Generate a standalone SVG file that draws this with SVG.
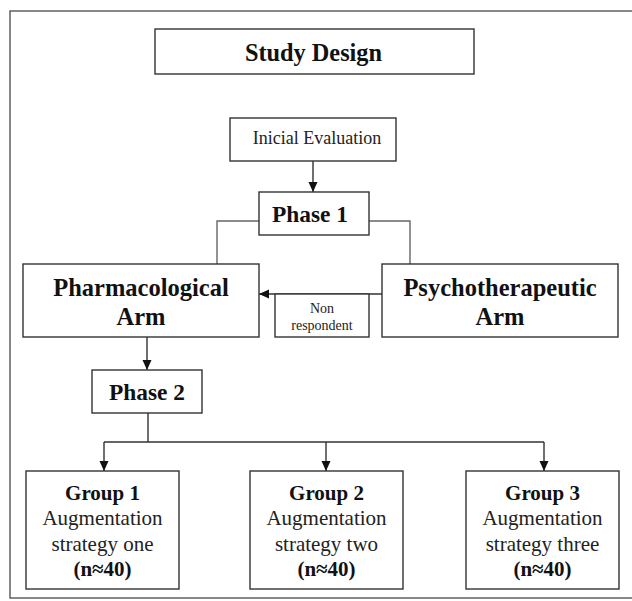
<svg xmlns="http://www.w3.org/2000/svg" width="632" height="601" viewBox="0 0 632 601">
<defs>
<marker id="ah" markerUnits="userSpaceOnUse" markerWidth="10" markerHeight="10" viewBox="0 0 10 10" refX="10" refY="5" orient="auto">
<path d="M0,0.5 L10,5 L0,9.5 Z" fill="#111"/>
</marker>
<style>
.box{fill:#fff;stroke:#333;stroke-width:1.4}
.ln{fill:none;stroke:#333;stroke-width:1.4}
.gl{fill:none;stroke:#666;stroke-width:1.4}
.b{font-family:"Liberation Serif","Times New Roman",serif;font-weight:bold;fill:#111;text-anchor:middle}
.r{font-family:"Liberation Serif","Times New Roman",serif;fill:#222;text-anchor:middle}
</style>
</defs>
<rect x="0" y="0" width="632" height="601" fill="#fff"/>
<rect x="10" y="11" width="640" height="587" fill="none" stroke="#555" stroke-width="1.4"/>
<g id="connectors">
<line class="ln" x1="313" y1="161" x2="313" y2="192" marker-end="url(#ah)"/>
<polyline class="gl" points="259,221 217,221 217,264"/>
<polyline class="gl" points="369,221 410,221 410,264"/>
<line class="ln" x1="382" y1="294" x2="259" y2="294" marker-end="url(#ah)"/>
<line class="ln" x1="147" y1="337" x2="147" y2="370" marker-end="url(#ah)"/>
<line class="ln" x1="148" y1="413" x2="148" y2="442"/>
<line class="ln" x1="104" y1="442" x2="544" y2="442"/>
<line class="ln" x1="104" y1="442" x2="104" y2="471" marker-end="url(#ah)"/>
<line class="ln" x1="326" y1="442" x2="326" y2="471" marker-end="url(#ah)"/>
<line class="ln" x1="544" y1="442" x2="544" y2="471" marker-end="url(#ah)"/>
</g>
<g id="study-design">
<rect class="box" x="155" y="29" width="319" height="45"/>
<text class="b" x="313.5" y="61" font-size="25" textLength="137" lengthAdjust="spacingAndGlyphs">Study Design</text>
</g>
<g id="inicial-evaluation">
<rect class="box" x="230" y="118" width="166" height="43"/>
<text class="r" x="317" y="144" font-size="18">Inicial Evaluation</text>
</g>
<g id="phase1">
<rect class="box" x="259" y="192" width="110" height="43"/>
<text class="b" x="310" y="222" font-size="24" textLength="76" lengthAdjust="spacingAndGlyphs">Phase 1</text>
</g>
<g id="pharmacological-arm">
<rect class="box" x="23" y="264" width="236" height="73"/>
<text class="b" x="141" y="296" font-size="24.5">Pharmacological</text>
<text class="b" x="141" y="325" font-size="24.5">Arm</text>
</g>
<g id="psychotherapeutic-arm">
<rect class="box" x="382" y="264" width="236" height="73"/>
<text class="b" x="500" y="296" font-size="24.5">Psychotherapeutic</text>
<text class="b" x="500" y="325" font-size="24.5">Arm</text>
</g>
<g id="non-respondent">
<rect class="box" x="275" y="294" width="94" height="43"/>
<text class="r" x="322" y="313" font-size="14">Non</text>
<text class="r" x="322" y="330" font-size="14">respondent</text>
</g>
<g id="phase2">
<rect class="box" x="92" y="370" width="110" height="43"/>
<text class="b" x="147" y="400" font-size="24" textLength="76" lengthAdjust="spacingAndGlyphs">Phase 2</text>
</g>
<g id="group1">
<rect class="box" x="26" y="471" width="153" height="118"/>
<text class="b" x="102.5" y="500" font-size="21">Group 1</text>
<text class="r" x="102.5" y="525" font-size="21">Augmentation</text>
<text class="r" x="102.5" y="551" font-size="21">strategy one</text>
<text class="b" x="102.5" y="576" font-size="21">(n≈40)</text>
</g>
<g id="group2">
<rect class="box" x="250" y="471" width="153" height="118"/>
<text class="b" x="326.5" y="500" font-size="21">Group 2</text>
<text class="r" x="326.5" y="525" font-size="21">Augmentation</text>
<text class="r" x="326.5" y="551" font-size="21">strategy two</text>
<text class="b" x="326.5" y="576" font-size="21">(n≈40)</text>
</g>
<g id="group3">
<rect class="box" x="466" y="471" width="153" height="118"/>
<text class="b" x="542.5" y="500" font-size="21">Group 3</text>
<text class="r" x="542.5" y="525" font-size="21">Augmentation</text>
<text class="r" x="542.5" y="551" font-size="21">strategy three</text>
<text class="b" x="542.5" y="576" font-size="21">(n≈40)</text>
</g>
</svg>
